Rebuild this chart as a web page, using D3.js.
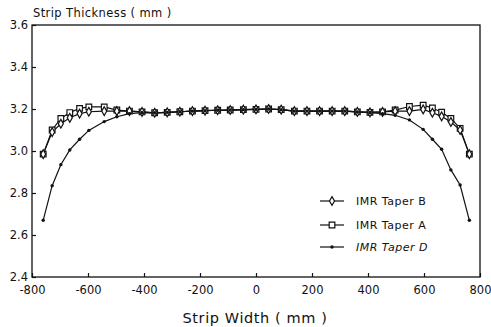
<!DOCTYPE html>
<html><head><meta charset="utf-8">
<script src="https://cdn.jsdelivr.net/npm/d3@7"></script>
<style>
html,body{margin:0;padding:0;background:#fff;}
</style></head>
<body><svg id="c" width="491" height="327"></svg>
<script>
const widths = [-760,-728,-697,-665,-630,-597,-542,-497,-452,-407,-362,-317,-272,-227,-182,-137,-92,-45,0,45,90,137,182,227,272,317,362,407,452,497,548,597,630,663,696,729,762];
const taperB = [2.985,3.09,3.13,3.158,3.178,3.187,3.19,3.19,3.19,3.186,3.182,3.184,3.187,3.19,3.192,3.194,3.195,3.197,3.198,3.2,3.197,3.19,3.19,3.19,3.19,3.19,3.186,3.184,3.186,3.19,3.19,3.198,3.182,3.165,3.138,3.1,2.985];
const taperA = [2.985,3.1,3.155,3.183,3.203,3.21,3.21,3.195,3.19,3.186,3.182,3.184,3.187,3.19,3.192,3.194,3.195,3.197,3.198,3.2,3.197,3.19,3.19,3.19,3.19,3.19,3.186,3.184,3.186,3.195,3.212,3.218,3.205,3.185,3.155,3.108,2.985];
const taperD = [2.67,2.835,2.935,3.005,3.056,3.098,3.14,3.163,3.178,3.183,3.182,3.184,3.187,3.19,3.192,3.194,3.195,3.197,3.198,3.2,3.197,3.19,3.19,3.19,3.19,3.19,3.186,3.183,3.178,3.17,3.148,3.103,3.056,3.008,2.91,2.838,2.67];
const xTicks = [-800,-600,-400,-200,0,200,400,600,800];
const yTicks = [2.4,2.6,2.8,3.0,3.2,3.4,3.6];
const legendLabels = ["IMR Taper B","IMR Taper A","IMR Taper D"];

const FONT = "DejaVu Sans, sans-serif";
const svg = d3.select("#c");
const L=32,R=480,T=25,B=277;
const x = d3.scaleLinear().domain([-800,800]).range([L,R]);
const y = d3.scaleLinear().domain([2.4,3.6]).range([B,T]);

svg.append("rect").attr("x",L).attr("y",T).attr("width",R-L).attr("height",B-T)
  .attr("fill","none").attr("stroke","#111").attr("stroke-width",1.3);

const xAxis = svg.append("g").attr("transform",`translate(0,${B})`)
  .call(d3.axisBottom(x).tickValues(xTicks).tickSize(-4).tickPadding(9).tickFormat(d=>String(d)));
const yAxis = svg.append("g").attr("transform",`translate(${L},0)`)
  .call(d3.axisLeft(y).tickValues(yTicks).tickSize(-4).tickPadding(4).tickFormat(d3.format(".1f")));
[xAxis,yAxis].forEach(g=>{
  g.select(".domain").remove();
  g.selectAll(".tick line").attr("stroke","#111").attr("stroke-width",1.2);
  g.selectAll(".tick text").attr("font-size",11.5).attr("font-family",FONT).attr("fill","#111");
});
xAxis.selectAll(".tick text").attr("dy","0.71em");

svg.append("text").attr("x",33).attr("y",17).attr("font-size",11.5).attr("fill","#111")
  .attr("font-family",FONT).attr("letter-spacing",0.4).text("Strip Thickness ( mm )");
svg.append("text").attr("x",255).attr("y",323).attr("text-anchor","middle").attr("font-size",14.5).attr("fill","#111")
  .attr("font-family",FONT).attr("letter-spacing",0.6).text("Strip Width ( mm )");

const line = d3.line().x(d=>x(d[0])).y(d=>y(d[1]));
function series(vals){ return widths.map((w,i)=>[w,vals[i]]); }

const sD = series(taperD), sA = series(taperA), sB = series(taperB);
[sD,sA,sB].forEach(s=>svg.append("path").datum(s).attr("d",line)
  .attr("fill","none").attr("stroke","#111").attr("stroke-width",1.2));

const sq = d3.symbol().type(d3.symbolSquare).size(32);
const di = d3.symbol().type(d3.symbolDiamond).size(22);
function marks(s,gen){
  svg.append("g").selectAll("path").data(s).join("path")
    .attr("transform",d=>`translate(${x(d[0])},${y(d[1])})`).attr("d",gen)
    .attr("fill","#fff").attr("stroke","#111").attr("stroke-width",1.2);
}
marks(sA,sq);
marks(sB,di);
svg.append("g").selectAll("circle").data(sD).join("circle")
  .attr("cx",d=>x(d[0])).attr("cy",d=>y(d[1])).attr("r",1.7).attr("fill","#111");

const lg = svg.append("g");
const ly=[201,225,247];
legendLabels.forEach((lab,i)=>{
  lg.append("line").attr("x1",320).attr("x2",344).attr("y1",ly[i]).attr("y2",ly[i])
    .attr("stroke","#111").attr("stroke-width",1.2);
  if(i===0) lg.append("path").attr("transform",`translate(332,${ly[i]})`).attr("d",di).attr("fill","#fff").attr("stroke","#111").attr("stroke-width",1.2);
  if(i===1) lg.append("path").attr("transform",`translate(332,${ly[i]})`).attr("d",sq).attr("fill","#fff").attr("stroke","#111").attr("stroke-width",1.2);
  if(i===2) lg.append("circle").attr("cx",332).attr("cy",ly[i]).attr("r",1.7).attr("fill","#111");
  lg.append("text").attr("x",356).attr("y",ly[i]).attr("dy","0.35em").attr("font-size",11).attr("fill","#111")
    .attr("font-family",FONT).attr("letter-spacing",0.5)
    .attr("font-style",i===2?"italic":"normal").text(lab);
});
</script></body></html>
